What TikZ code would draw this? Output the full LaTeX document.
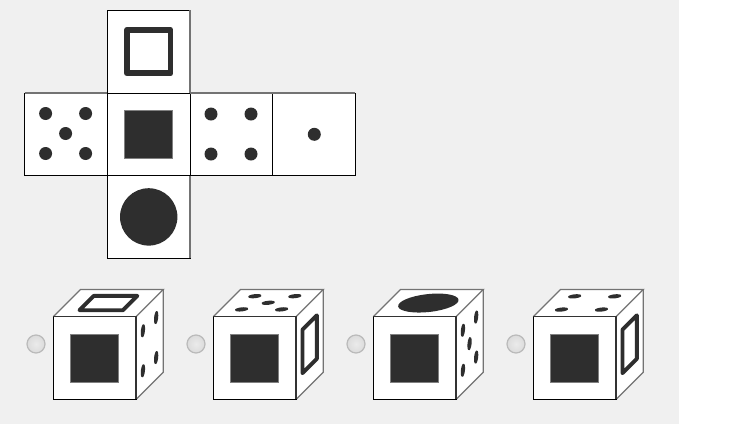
\documentclass[tikz,border=0pt]{standalone}
\usepackage{tikz}
\usetikzlibrary{calc}
\definecolor{pagegrey}{HTML}{F0F0F0}
\definecolor{inkdark}{HTML}{2E2E2E}
\newcommand{\ringwd}{2.2pt}
\tikzset{
  netline/.style={draw=black,line width=0.55pt},
  softline/.style={draw=black!55,line width=0.7pt},
  ink/.style={fill=inkdark},
  radio/.style={inner color=black!8,outer color=black!14,draw=black!27,line width=0.7pt},
  topface/.style={x={(0.02cm,0)},y={(-0.0066cm,-0.0066cm)}},
  sideface/.style={x={(0.0066cm,0.0066cm)},y={(0,-0.02cm)}}
}
% face contents, in pixels from the corner of a face
\newcommand{\facefour}{\foreach \a/\b in {21/21,61/21,21/61,61/61} \fill[ink] (\a,\b) circle[radius=6.5];}
\newcommand{\facefive}{\foreach \a/\b in {21/20.5,61/20.5,41/40.5,21/60.5,61/60.5} \fill[ink] (\a,\b) circle[radius=6.5];}
\newcommand{\faceone}{\fill[ink] (41.5,41.3) circle[radius=6.5];}
\newcommand{\facering}{\draw[draw=inkdark,line width=\ringwd,line join=round] (19.7,19.5) -- (63.2,19.5) -- (63.2,63) -- (19.7,63) -- cycle;}
\newcommand{\faceblock}{\filldraw[ink,draw=black!50,line width=0.4pt] (17.4,17.5) rectangle (65.5,65.5);}
\newcommand{\facedisc}{\fill[ink] (41.4,41.3) circle[radius=28.7];}
% the front, top and side of one die
\newcommand{\die}[3]{%
  \begin{scope}[shift={(#1,0)}]
    \coordinate (FL) at (53.3,316.7);
    \coordinate (FR) at (136,316.7);
    \coordinate (BR) at (136,399.4);
    \coordinate (BL) at (53.3,399.4);
    \coordinate (TL) at (80.6,289.4);
    \coordinate (TR) at (163.3,289.4);
    \coordinate (SR) at (163.3,372.1);
    \fill[white] (FL) -- (TL) -- (TR) -- (SR) -- (BR) -- (BL) -- cycle;
    \draw[softline] (FL) -- (TL) -- (TR) -- (FR);
    \draw[softline] (TR) -- (SR) -- (BR);
    \begin{scope}[shift={(TL)},topface] #2 \end{scope}
    \begin{scope}[shift={(FR)},sideface] #3 \end{scope}
    \begin{scope}[shift={(FL)}] \faceblock \end{scope}
    \draw[netline] (FL) rectangle (BR);
    \draw[softline,draw=black!80] (FL) -- (FR) -- (BR);
    \shade[radio] (36,344) circle (9);
  \end{scope}
}
\begin{document}
\begin{tikzpicture}[x=0.02cm,y=-0.02cm]
\useasboundingbox (0,0) rectangle (731,424);
\fill[pagegrey] (0,0) rectangle (679,424);
% net
\coordinate (Nup) at (107.3,10.4);
\coordinate (Nleft) at (24.6,93);
\coordinate (Nmid) at (107.3,93);
\coordinate (Nright) at (190,93);
\coordinate (Nfar) at (272.8,93);
\coordinate (Ndown) at (107.3,175.6);
\foreach \f/\c in {Nleft/\facefive,Nmid/\faceblock,Nright/\facefour,Nfar/\faceone,Ndown/\facedisc,Nup/{\renewcommand{\ringwd}{3.4pt}\facering}}
{
  \begin{scope}[shift={(\f)}]
    \filldraw[fill=white,netline] (0,0) rectangle (82.7,82.7);
    \c
  \end{scope}
}
\draw[softline] (Nleft) -- ++(82.7,0);
\draw[softline] (Nright) -- ++(165.4,0);
\draw[softline] ($(Nup)+(82.7,0)$) -- ++(0,82.7);
\draw[softline] ($(Ndown)+(82.7,0)$) -- ++(0,82.7);
% answers
\die{0}{\facering}{\facefour}
\die{160}{\facefive}{\facering}
\die{320}{\facedisc}{\facefive}
\die{480}{\facefour}{\facering}
\end{tikzpicture}
\end{document}
